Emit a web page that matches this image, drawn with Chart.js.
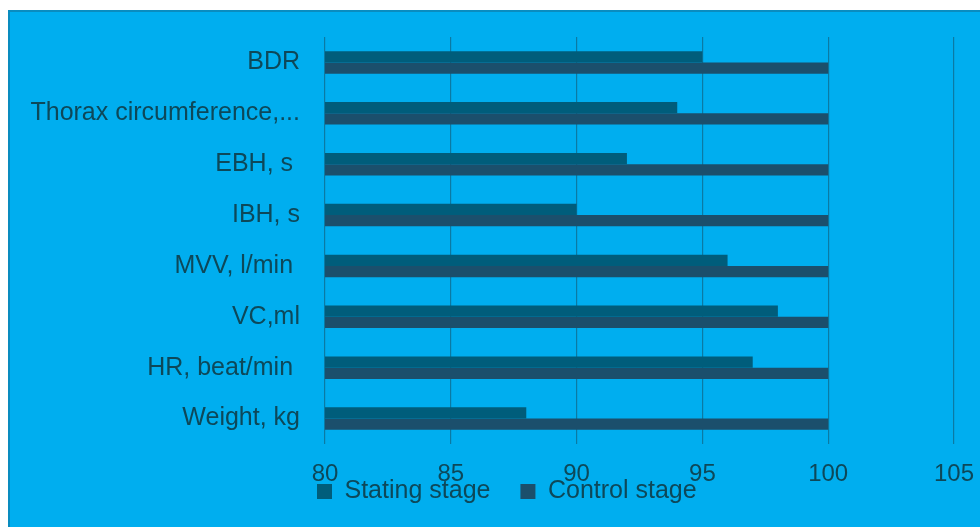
<!DOCTYPE html>
<html>
<head>
<meta charset="utf-8">
<script src="https://cdn.jsdelivr.net/npm/chart.js@4/dist/chart.umd.min.js"></script>
<style>
  html, body { margin: 0; padding: 0; background: #ffffff; }
  #wrap { width: 980px; height: 527px; }
</style>
</head>
<body>
<div id="wrap"><canvas id="canva1" width="980" height="527"></canvas></div>
<script>
// data
const categories = ["BDR", "Thorax circumference,...", "EBH, s ", "IBH, s", "MVV, l/min ", "VC,ml", "HR, beat/min ", "Weight, kg"];
const statingStage = [95, 94, 92, 90, 96, 98, 97, 88];
const controlStage = [100, 100, 100, 100, 100, 100, 100, 100];
const seriesNames = ["Stating stage", "Control stage"];
const xMin = 80, xMax = 105, xStep = 5;

const textColor = "#0d4859";
const fontFamily = "'Liberation Sans', Arial, sans-serif";

// blue panel behind the chart, like the original frame
const panel = {
    id: "panel",
    beforeDraw(chart){
        let ctx = chart.ctx;
        ctx.save();
        ctx.fillStyle = "#00aeef";
        ctx.fillRect(8, 10, 972, 517);
        ctx.strokeStyle = "#0a8cbf";
        ctx.lineWidth = 2;
        ctx.beginPath();
        ctx.moveTo(9, 527);
        ctx.lineTo(9, 11);
        ctx.lineTo(980, 11);
        ctx.stroke();
        ctx.restore();
    }
};

// the original legend sits over the tick labels, so move it after layout
const moveLegend = {
    id: "moveLegend",
    afterLayout(chart){
        let lg = chart.legend;
        let h = lg.bottom - lg.top;
        lg.left = 287;
        lg.top = 449;
        lg.bottom = 449 + h;
    }
};

window.onload = function(){
    let canva1 = document.getElementById("canva1");
    let grafico1 = new Chart(canva1, {
        type: "bar",
        data: {
            labels: categories,
            datasets: [{
                label: seriesNames[0],
                data: statingStage,
                backgroundColor: "#005d7b",
                borderWidth: 0
            }, {
                label: seriesNames[1],
                data: controlStage,
                backgroundColor: "#1b4f6c",
                borderWidth: 0
            }]
        },
        options: {
            responsive: false,
            animation: false,
            indexAxis: "y",
            layout: { padding: { left: 0, right: 0, top: 37, bottom: -30 } },
            datasets: { bar: { categoryPercentage: 0.44, barPercentage: 1.0 } },
            scales: {
                x: {
                    min: xMin,
                    max: xMax,
                    ticks: { stepSize: xStep, color: textColor, padding: 16, font: { family: fontFamily, size: 24 } },
                    grid: { color: "#0b7aa3", lineWidth: 1.2, drawTicks: false },
                    border: { display: false },
                    afterFit: function(scale){
                        scale.height = 48;
                        scale.paddingRight = 26;
                    }
                },
                y: {
                    ticks: { color: textColor, padding: 17, font: { family: fontFamily, size: 25 } },
                    grid: { display: false },
                    border: { display: false },
                    afterFit: function(scale){ scale.width = 325; }
                }
            },
            plugins: {
                legend: {
                    position: "bottom",
                    align: "start",
                    labels: {
                        color: textColor,
                        boxWidth: 15,
                        boxHeight: 15,
                        padding: 30,
                        font: { family: fontFamily, size: 25 }
                    }
                },
                tooltip: { enabled: false }
            }
        },
        plugins: [panel, moveLegend]
    });
}
</script>
</body>
</html>
